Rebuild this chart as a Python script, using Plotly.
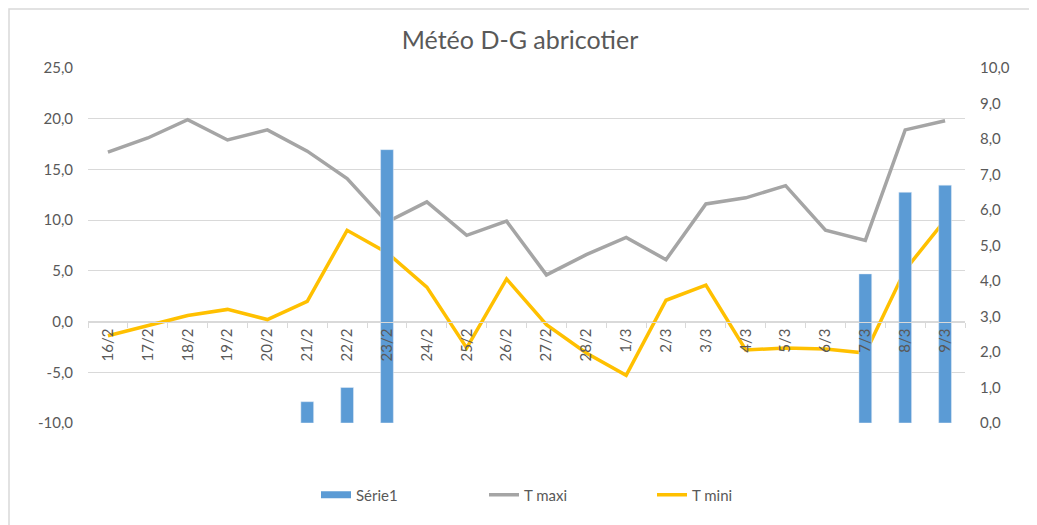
import plotly.graph_objects as go

categories = ["16/2", "17/2", "18/2", "19/2", "20/2", "21/2", "22/2", "23/2", "24/2", "25/2", "26/2",
              "27/2", "28/2", "1/3", "2/3", "3/3", "4/3", "5/3", "6/3", "7/3", "8/3", "9/3"]
serie1 = [None, None, None, None, None, 0.6, 1.0, 7.7, None, None, None,
          None, None, None, None, None, None, None, None, 4.2, 6.5, 6.7]
t_maxi = [16.7, 18.1, 19.9, 17.9, 18.9, 16.8, 14.1, 9.8, 11.8, 8.5, 9.9,
          4.6, 6.6, 8.3, 6.1, 11.6, 12.2, 13.4, 9.0, 8.0, 18.9, 19.8]
t_mini = [-1.4, -0.4, 0.6, 1.2, 0.2, 2.0, 9.0, 6.8, 3.4, -2.6, 4.2,
          -0.3, -3.1, -5.3, 2.1, 3.6, -2.8, -2.6, -2.7, -3.1, 5.1, 10.0]
left_ticks = [-10, -5, 0, 5, 10, 15, 20, 25]
right_ticks = [0, 1, 2, 3, 4, 5, 6, 7, 8, 9, 10]

FONT = "Lato"
TXT = "#595959"
GRID = "#d9d9d9"
BLUE = "#5b9bd5"

# page body has an 8px margin; figure is sized so the plot area lands where the reference has it
W, H = 1029, 517
ML, MT, PW, PH = 80, 60, 877, 355

fig = go.Figure()
fig.add_trace(go.Bar(x=categories, y=serie1, name="Série1", marker_color=BLUE,
                     yaxis="y2", showlegend=False))
# legend entry for the bars, drawn as a wide flat swatch like Excel
fig.add_trace(go.Scatter(x=categories, y=[None] * len(categories), name="Série1", mode="lines",
                         line=dict(color=BLUE, width=7), yaxis="y2"))
fig.add_trace(go.Scatter(x=categories, y=t_maxi, name="T maxi", mode="lines",
                         line=dict(color="#a5a5a5", width=3.5)))
fig.add_trace(go.Scatter(x=categories, y=t_mini, name="T mini", mode="lines",
                         line=dict(color="#ffc000", width=3.5)))

fig.update_layout(
    width=W, height=H,
    margin=dict(l=ML, r=W - ML - PW, t=MT, b=H - MT - PH),
    paper_bgcolor="white", plot_bgcolor="white",
    font=dict(family=FONT, color=TXT, size=15),
    title=dict(text="Météo D-G abricotier", x=(520 - 8) / W, xanchor="center",
               y=1 - (40 - 8) / H, yanchor="middle",
               font=dict(size=25, color=TXT, family=FONT)),
    bargap=0.68,
    xaxis=dict(type="category", anchor="free", position=10 / 35,
               showline=True, linecolor=GRID, linewidth=1,
               ticks="outside", tickson="boundaries", ticklen=5, tickcolor=GRID,
               tickangle=-90, showgrid=False, tickfont=dict(size=15, color=TXT)),
    yaxis=dict(range=[-10, 25], tickvals=left_ticks,
               ticktext=[f"{v:.1f}".replace(".", ",") for v in left_ticks],
               showgrid=True, gridcolor=GRID, gridwidth=1, zeroline=False,
               ticks="", ticklabelstandoff=14, tickfont=dict(size=15, color=TXT)),
    yaxis2=dict(range=[0, 10], overlaying="y", side="right", tickvals=right_ticks,
                ticktext=[f"{v:.1f}".replace(".", ",") for v in right_ticks],
                showgrid=False, zeroline=False, ticks="", ticklabelstandoff=14,
                tickfont=dict(size=15, color=TXT)),
    legend=dict(orientation="h", x=(316 - 88) / PW, xanchor="left",
                y=-(495 - 423) / PH, yanchor="middle",
                entrywidth=123, font=dict(size=15, color=TXT), traceorder="normal"),
    shapes=[dict(type="rect", xref="paper", yref="paper",
                 x0=-(ML - 1) / PW, x1=(1034 - 8 - ML) / PW,
                 y0=-(H - MT + 20 - PH) / PH, y1=1 + (MT - 1) / PH,
                 line=dict(color=GRID, width=1.5), fillcolor="rgba(0,0,0,0)", layer="below")],
)

fig.write_html("out.html")
